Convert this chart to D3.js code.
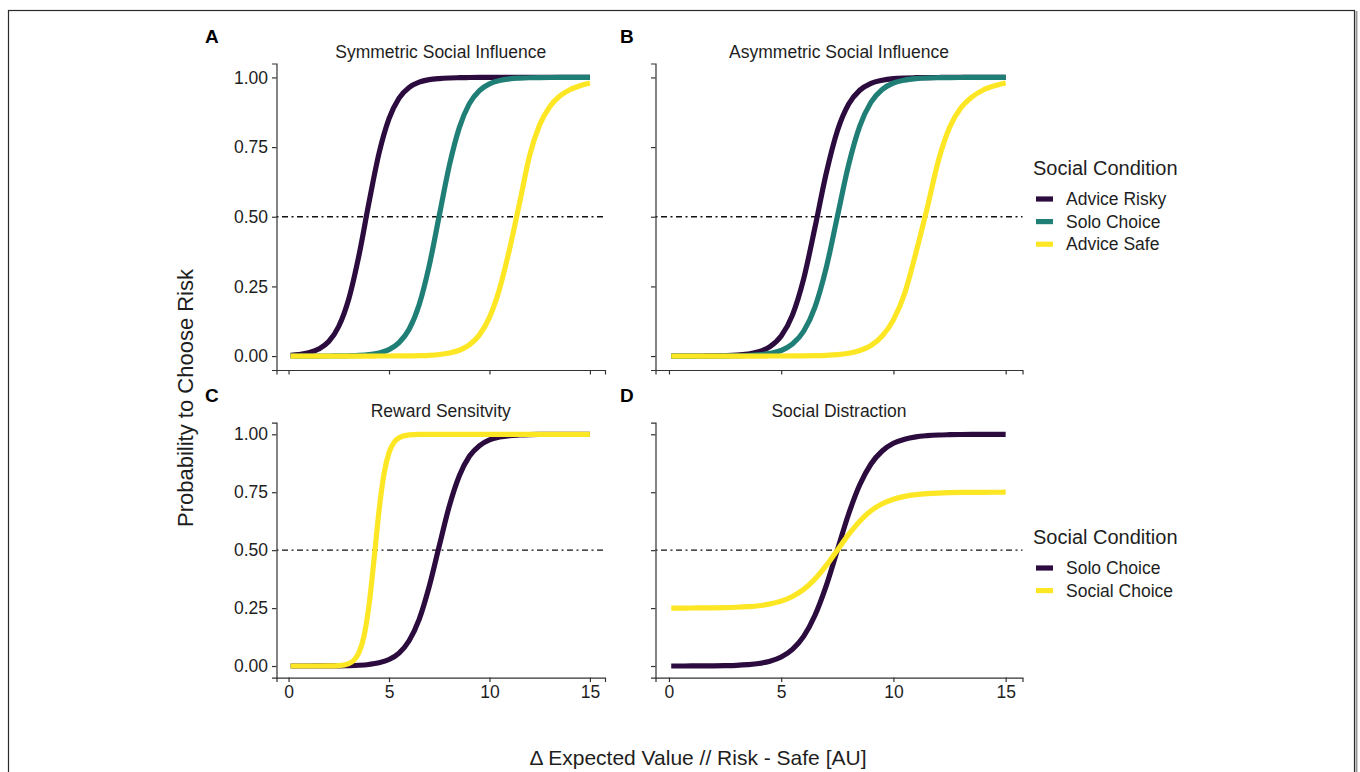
<!DOCTYPE html>
<html>
<head>
<meta charset="utf-8">
<script src="https://cdn.jsdelivr.net/npm/d3@7"></script>
<style>
  body { margin: 0; background: #fff; }
  svg text { font-family: "Liberation Sans", Arial, sans-serif; }
</style>
</head>
<body>
<div id="chart"></div>
<script>
// x grid (Δ expected value) shared by most curves
const evGrid = [0.1, 0.5, 1, 1.5, 2, 2.5, 3, 3.5, 4, 4.5, 5, 5.5, 6, 6.5, 7, 7.5,
                8, 8.5, 9, 9.5, 10, 10.5, 11, 11.5, 12, 12.5, 13, 13.5, 14, 14.5, 15];
// finer grid for the steep reward-sensitivity curve
const evGridFine = [0.1, 1, 2, 2.5, 3, 3.25, 3.5, 3.75, 4, 4.25, 4.5, 4.75, 5, 5.25, 5.5, 6, 6.5, 7,
                    8, 9, 10, 11, 12, 13, 14, 15];

// A - symmetric social influence
const riskySym = [0.0029, 0.0054, 0.0115, 0.025, 0.052, 0.107, 0.206, 0.36, 0.55, 0.727, 0.852, 0.926,
                  0.964, 0.983, 0.992, 0.996, 0.998, 0.999, 0.9997, 1, 1, 1, 1, 1, 1, 1, 1, 1, 1, 1, 1];
const soloSym = [0, 0, 0.0001, 0.0001, 0.0003, 0.0005, 0.0012, 0.0025, 0.0053, 0.011, 0.023, 0.048,
                 0.096, 0.184, 0.324, 0.504, 0.683, 0.82, 0.906, 0.953, 0.977, 0.989, 0.995, 0.9975,
                 0.9988, 0.9994, 0.9997, 0.9999, 1, 1, 1];
const safeSym = [0, 0, 0, 0, 0, 0, 0, 0.0001, 0.0001, 0.0002, 0.0003, 0.0005, 0.0007, 0.0015, 0.0028,
                 0.0055, 0.0108, 0.021, 0.04, 0.076, 0.139, 0.241, 0.384, 0.55, 0.72, 0.83, 0.895,
                 0.933, 0.956, 0.97, 0.98];

// B - asymmetric social influence
const riskyAsym = [0, 0.0001, 0.0001, 0.0003, 0.0006, 0.0014, 0.0031, 0.007, 0.0154, 0.034, 0.072, 0.147,
                   0.277, 0.46, 0.654, 0.808, 0.904, 0.954, 0.979, 0.99, 0.9957, 0.998, 0.999, 0.9996,
                   0.9998, 1, 1, 1, 1, 1, 1];
const soloAsym = [0, 0, 0, 0.0001, 0.0002, 0.0004, 0.0009, 0.002, 0.0044, 0.0095, 0.02, 0.043, 0.089,
                  0.175, 0.315, 0.5, 0.685, 0.825, 0.911, 0.957, 0.98, 0.9905, 0.9956, 0.998, 0.999,
                  0.9996, 0.9998, 1, 1, 1, 1];
const safeAsym = [0, 0, 0, 0, 0, 0, 0, 0.0001, 0.0001, 0.0002, 0.0003, 0.0004, 0.0007, 0.0013, 0.0025,
                  0.005, 0.01, 0.02, 0.038, 0.072, 0.13, 0.225, 0.37, 0.53, 0.7, 0.82, 0.89, 0.93,
                  0.955, 0.97, 0.98];

// C - reward sensitivity
const soloReward = [0, 0, 0.0001, 0.0002, 0.0004, 0.0008, 0.0016, 0.0032, 0.0067, 0.0137, 0.028, 0.056,
                    0.109, 0.201, 0.343, 0.518, 0.69, 0.821, 0.905, 0.951, 0.976, 0.988, 0.9943, 0.997,
                    0.9987, 0.9994, 0.9997, 0.9999, 1, 1, 1];
const socialReward = [0, 0, 0.0003, 0.0018, 0.0105, 0.0247, 0.057, 0.127, 0.259, 0.456, 0.668, 0.829,
                      0.921, 0.965, 0.985, 0.9974, 0.9995, 1, 1, 1, 1, 1, 1, 1, 1, 1];

// D - social distraction
const soloDistract = [0.0001, 0.0001, 0.0002, 0.0005, 0.0009, 0.0017, 0.0031, 0.006, 0.011, 0.021, 0.039,
                      0.072, 0.128, 0.218, 0.345, 0.5, 0.655, 0.782, 0.872, 0.928, 0.961, 0.979, 0.989,
                      0.994, 0.997, 0.9983, 0.9991, 0.9995, 0.9997, 0.9999, 1];
const socialDistract = [0.25, 0.25, 0.2504, 0.2507, 0.2512, 0.252, 0.2535, 0.256, 0.26, 0.268, 0.28, 0.3,
                        0.3305, 0.375, 0.433, 0.5, 0.567, 0.625, 0.67, 0.7, 0.72, 0.732, 0.7396, 0.744,
                        0.7465, 0.748, 0.749, 0.7495, 0.7497, 0.7499, 0.75];

const yTicks = [0, 0.25, 0.5, 0.75, 1];
const xTicks = [0, 5, 10, 15];
const panelLetters = ["A", "B", "C", "D"];
const panelTitles = ["Symmetric Social Influence", "Asymmetric Social Influence",
                     "Reward Sensitvity", "Social Distraction"];
const legendTop = ["Advice Risky", "Solo Choice", "Advice Safe"];
const legendBottom = ["Solo Choice", "Social Choice"];

const purple = "#2c0c3e", teal = "#1f7e76", yellow = "#fde725";

const width = 1360, height = 772;
const svg = d3.select("#chart").append("svg")
    .attr("width", width)
    .attr("height", height);

// figure frame
svg.append("rect")
    .attr("x", 8.5).attr("y", 10.5)
    .attr("width", 1346).attr("height", 780)
    .attr("fill", "none").attr("stroke", "#2a2a2a").attr("stroke-width", 1.2);
svg.append("line")
    .attr("x1", 1356.5).attr("x2", 1356.5).attr("y1", 11).attr("y2", 772)
    .attr("stroke", "#9a9a9a").attr("stroke-width", 2);

const cols = [[276.5, 605], [655.5, 1022.5]];
const rows = [[63.5, 370], [422.7, 677.6]];

const panels = [
  {col: 0, row: 0, xLabels: false, yLabels: true,
   series: [{x: evGrid, y: riskySym, c: purple}, {x: evGrid, y: soloSym, c: teal}, {x: evGrid, y: safeSym, c: yellow}]},
  {col: 1, row: 0, xLabels: false, yLabels: false,
   series: [{x: evGrid, y: riskyAsym, c: purple}, {x: evGrid, y: soloAsym, c: teal}, {x: evGrid, y: safeAsym, c: yellow}]},
  {col: 0, row: 1, xLabels: true, yLabels: true,
   series: [{x: evGrid, y: soloReward, c: purple}, {x: evGridFine, y: socialReward, c: yellow}]},
  {col: 1, row: 1, xLabels: true, yLabels: false,
   series: [{x: evGrid, y: soloDistract, c: purple}, {x: evGrid, y: socialDistract, c: yellow}]}
];

panels.forEach(function(p, i) {
  let x0 = cols[p.col][0], x1 = cols[p.col][1],
      y0 = rows[p.row][0], y1 = rows[p.row][1];

  let x = d3.scaleLinear().domain([-0.6, 15.75]).range([x0, x1]),
      y = d3.scaleLinear().domain([-0.05, 1.05]).range([y1, y0]);

  let g = svg.append("g");

  // dot-dash reference line at 0.5
  g.append("line")
      .attr("x1", x0).attr("x2", x1)
      .attr("y1", y(0.5)).attr("y2", y(0.5))
      .attr("stroke", "#111").attr("stroke-width", 1.3)
      .attr("stroke-dasharray", "2,3.5,6,3.5");

  let line = d3.line()
      .x(function(d) { return x(d[0]); })
      .y(function(d) { return y(d[1]); })
      .curve(d3.curveMonotoneX);

  p.series.forEach(function(s) {
    g.append("path")
        .datum(d3.zip(s.x, s.y))
        .attr("fill", "none")
        .attr("stroke", s.c)
        .attr("stroke-width", 5.2)
        .attr("d", line);
  });

  let yAxis = g.append("g")
      .attr("transform", "translate(" + x0 + ",0)")
      .call(d3.axisLeft(y).tickValues(yTicks).tickSize(4.5).tickPadding(4)
            .tickFormat(p.yLabels ? d3.format(".2f") : ""));
  let xAxis = g.append("g")
      .attr("transform", "translate(0," + y1 + ")")
      .call(d3.axisBottom(x).tickValues(xTicks).tickSize(4.5).tickPadding(3)
            .tickFormat(p.xLabels ? d3.format("d") : ""));

  [yAxis, xAxis].forEach(function(a) {
    a.select(".domain").attr("stroke", "#333").attr("stroke-width", 1.2);
    a.selectAll(".tick line").attr("stroke", "#333").attr("stroke-width", 1.2);
    a.selectAll(".tick text").attr("fill", "#1e1e1e").style("font-size", "17.5px");
  });

  // panel letter and title
  svg.append("text")
      .attr("x", p.col ? 620 : 205)
      .attr("y", y0 - 21)
      .style("font-size", "19px").style("font-weight", "bold")
      .text(panelLetters[i]);
  svg.append("text")
      .attr("x", (x0 + x1) / 2)
      .attr("y", y0 - 6)
      .attr("text-anchor", "middle")
      .style("font-size", "17.5px").attr("fill", "#1e1e1e")
      .text(panelTitles[i]);
});

// legends
function drawLegend(top, labels, colors) {
  let lg = svg.append("g").attr("transform", "translate(1033," + top + ")");
  lg.append("text")
      .attr("x", 0).attr("y", 0)
      .style("font-size", "20px").attr("fill", "#1e1e1e")
      .text("Social Condition");
  labels.forEach(function(l, k) {
    lg.append("line")
        .attr("x1", 3).attr("x2", 20)
        .attr("y1", 24 + k * 22.6).attr("y2", 24 + k * 22.6)
        .attr("stroke", colors[k]).attr("stroke-width", 5.2);
    lg.append("text")
        .attr("x", 33).attr("y", 24 + k * 22.6)
        .attr("dy", "0.35em")
        .style("font-size", "17.5px").attr("fill", "#1e1e1e")
        .text(l);
  });
}
drawLegend(175, legendTop, [purple, teal, yellow]);
drawLegend(544, legendBottom, [purple, yellow]);

// shared axis titles
svg.append("text")
    .attr("transform", "translate(193,398) rotate(-90)")
    .attr("text-anchor", "middle")
    .style("font-size", "22px").attr("fill", "#1e1e1e")
    .text("Probability to Choose Risk");
svg.append("text")
    .attr("x", 698).attr("y", 765)
    .attr("text-anchor", "middle")
    .style("font-size", "21px").attr("fill", "#1e1e1e")
    .text("Δ Expected Value // Risk - Safe [AU]");
</script>
</body>
</html>
